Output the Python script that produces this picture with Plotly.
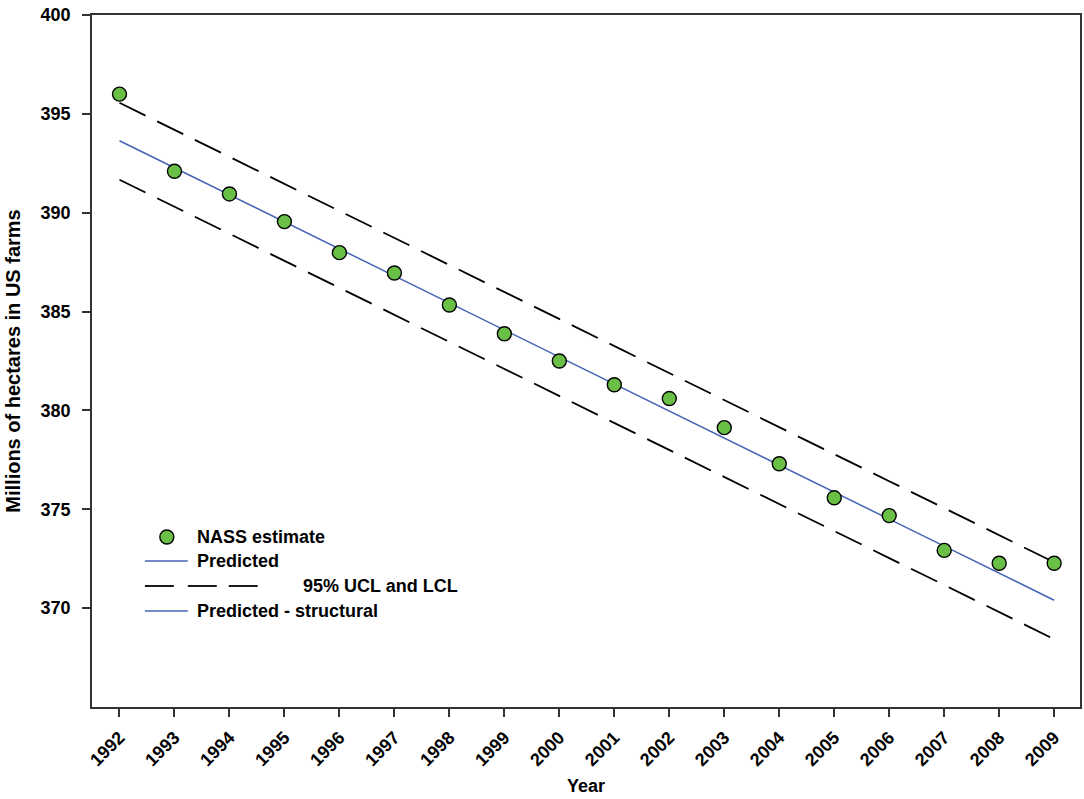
import plotly.graph_objects as go

years = list(range(1992, 2010))
nass = [396.0, 392.1, 390.95, 389.55, 387.98, 386.95, 385.33, 383.88, 382.5,
        381.3, 380.6, 379.13, 377.3, 375.58, 374.68, 372.92, 372.27, 372.27]
predicted = [393.64, 392.27, 390.91, 389.54, 388.17, 386.81, 385.44, 384.07, 382.70,
             381.34, 379.97, 378.60, 377.24, 375.87, 374.50, 373.14, 371.77, 370.40]
ucl = [395.56, 394.19, 392.83, 391.46, 390.09, 388.73, 387.36, 385.99, 384.62,
       383.26, 381.89, 380.52, 379.16, 377.79, 376.42, 375.06, 373.69, 372.32]
lcl = [391.67, 390.30, 388.94, 387.57, 386.20, 384.84, 383.47, 382.10, 380.73,
       379.37, 378.00, 376.63, 375.27, 373.90, 372.53, 371.17, 369.80, 368.43]
tick_labels = [str(y) for y in years]
y_ticks = [370, 375, 380, 385, 390, 395, 400]

GREEN = "#6abf47"
BLUE = "#4563b5"
FONT = "Arial, Liberation Sans, sans-serif"
DASH = "29px,13px"

fig = go.Figure()
fig.add_trace(go.Scatter(x=years, y=ucl, mode="lines",
                         line=dict(color="black", width=1.8, dash=DASH), showlegend=False))
fig.add_trace(go.Scatter(x=years, y=lcl, mode="lines",
                         line=dict(color="black", width=1.8, dash=DASH), showlegend=False))
fig.add_trace(go.Scatter(x=years, y=predicted, mode="lines",
                         line=dict(color=BLUE, width=1.5), showlegend=False))
fig.add_trace(go.Scatter(x=years, y=nass, mode="markers",
                         marker=dict(size=14, color=GREEN, line=dict(color="black", width=1.4)),
                         showlegend=False))

# Custom legend (paper coordinates)
L, R, T, B = 92, 1082, 15, 707
W, H = R - L, B - T
def px(x):
    return (x - L) / W
def py(y):
    return (B - y) / H

legend_font = dict(family=FONT, size=18, color="black")
fig.add_shape(type="circle", xref="paper", yref="paper", xsizemode="pixel", ysizemode="pixel",
              xanchor=px(167), yanchor=py(537), x0=-7, x1=7, y0=-7, y1=7,
              fillcolor=GREEN, line=dict(color="black", width=1.4))
fig.add_annotation(x=px(195), y=py(537), xref="paper", yref="paper", text="<b>NASS estimate</b>",
                   showarrow=False, xanchor="left", yanchor="middle", font=legend_font)
fig.add_shape(type="line", xref="paper", yref="paper", x0=px(145), x1=px(188), y0=py(561), y1=py(561),
              line=dict(color=BLUE, width=1.5))
fig.add_annotation(x=px(195), y=py(561), xref="paper", yref="paper", text="<b>Predicted</b>",
                   showarrow=False, xanchor="left", yanchor="middle", font=legend_font)
for a, b in [(145, 174), (188, 217), (229, 258)]:
    fig.add_shape(type="line", xref="paper", yref="paper", x0=px(a), x1=px(b), y0=py(586), y1=py(586),
                  line=dict(color="black", width=1.8))
fig.add_annotation(x=px(301), y=py(586), xref="paper", yref="paper", text="<b>95% UCL and LCL</b>",
                   showarrow=False, xanchor="left", yanchor="middle", font=legend_font)
fig.add_shape(type="line", xref="paper", yref="paper", x0=px(145), x1=px(188), y0=py(611), y1=py(611),
              line=dict(color=BLUE, width=1.5))
fig.add_annotation(x=px(195), y=py(611), xref="paper", yref="paper", text="<b>Predicted - structural</b>",
                   showarrow=False, xanchor="left", yanchor="middle", font=legend_font)

fig.update_layout(
    width=1084, height=799,
    margin=dict(l=L, r=1084 - R, t=T, b=799 - B),
    plot_bgcolor="white", paper_bgcolor="white",
    font=dict(family=FONT, color="black"),
    showlegend=False,
)
fig.update_xaxes(
    range=[1991.5, 2009.47], tickmode="array", tickvals=years, ticktext=[f"<b>{t}</b>" for t in tick_labels],
    tickangle=-45, tickfont=dict(size=18, family=FONT), ticks="outside", ticklen=8, tickwidth=1.5,
    tickcolor="#333333", ticklabelstandoff=3,
    showline=True, linecolor="#333333", linewidth=1.8, mirror=True, showgrid=False, zeroline=False,
    title=dict(text="<b>Year</b>", font=dict(size=18, family=FONT), standoff=10),
)
fig.update_yaxes(
    range=[365, 400], tickvals=y_ticks,
    ticktext=[f"<b>{v}</b>" for v in y_ticks],
    tickfont=dict(size=18, family=FONT), ticks="outside", ticklen=8, tickwidth=1.5, tickcolor="#333333",
    ticklabelstandoff=8,
    showline=True, linecolor="#333333", linewidth=1.8, mirror=True, showgrid=False, zeroline=False,
    title=dict(text="<b>Millions of hectares in US farms</b>", font=dict(size=20, family=FONT), standoff=14),
)

fig.write_html("out.html")
